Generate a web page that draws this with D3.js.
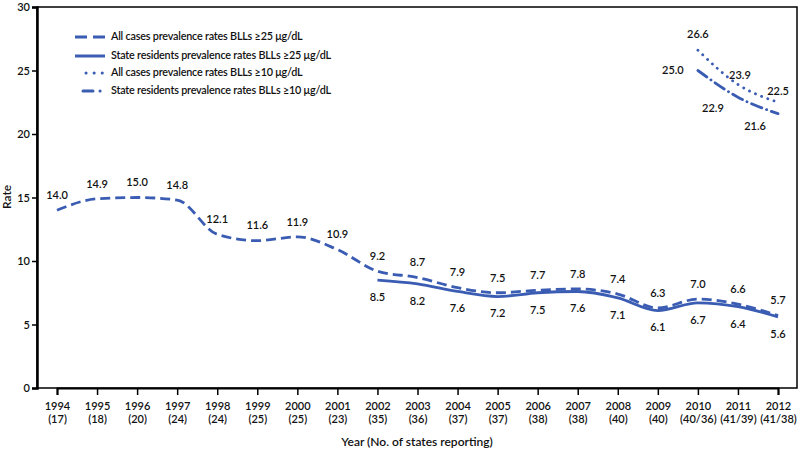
<!DOCTYPE html>
<html><head><meta charset="utf-8">
<script src="https://cdn.jsdelivr.net/npm/d3@7"></script>
<style>
body{margin:0;background:#fff;}
svg text{font-family:Lato,"Open Sans",sans-serif;fill:#111;}
</style></head>
<body><svg id="c" width="800" height="456"></svg>
<script>
const years = [1994,1995,1996,1997,1998,1999,2000,2001,2002,2003,2004,2005,2006,2007,2008,2009,2010,2011,2012];
const statesReporting = ["17","18","20","24","24","25","25","23","35","36","37","37","38","38","40","40","40/36","41/39","41/38"];
const allCases25 = [14.0,14.9,15.0,14.8,12.1,11.6,11.9,10.9,9.2,8.7,7.9,7.5,7.7,7.8,7.4,6.3,7.0,6.6,5.7];
const residentYears25 = [2002,2003,2004,2005,2006,2007,2008,2009,2010,2011,2012];
const residents25 = [8.5,8.2,7.6,7.2,7.5,7.6,7.1,6.1,6.7,6.4,5.6];
const years10 = [2010,2011,2012];
const allCases10 = [26.6,23.9,22.5];
const residents10 = [25.0,22.9,21.6];
const yTicks = [0,5,10,15,20,25,30];
const legendLabels = ["All cases prevalence rates BLLs \u226525 \u03bcg/dL","State residents prevalence rates BLLs \u226525 \u03bcg/dL","All cases prevalence rates BLLs \u226510 \u03bcg/dL","State residents prevalence rates BLLs \u226510 \u03bcg/dL"];

const color = "#3a5cb2";
const svg = d3.select("#c");
const mLeft = 37, mRight = 797, mTop = 7, mBottom = 388;
const x = d3.scalePoint().domain(years).range([57, 778]);
const y = d3.scaleLinear().domain([0,30]).range([mBottom, mTop]);

// frame
svg.append("rect").attr("x",mLeft).attr("y",mTop).attr("width",mRight-mLeft).attr("height",mBottom-mTop)
  .attr("fill","none").attr("stroke","#000").attr("stroke-width",1.5);

// y axis
const ya = svg.append("g").attr("transform",`translate(${mLeft},0)`)
  .call(d3.axisLeft(y).tickValues(yTicks).tickSize(5).tickPadding(2));
ya.select(".domain").attr("stroke-width",2.5);
ya.selectAll(".tick line").attr("stroke-width",1.5);
ya.selectAll("text").style("font-size","11px").style("font-weight","600");

// x axis
const xa = svg.append("g").attr("transform",`translate(0,${mBottom})`)
  .call(d3.axisBottom(x).tickSize(7).tickFormat(""));
xa.select(".domain").attr("stroke-width",2);
xa.selectAll(".tick line").attr("stroke-width",1.5);
xa.selectAll(".tick").each(function(d,i){
  const t = d3.select(this).append("text").attr("text-anchor","middle")
    .style("font-size","11px").style("font-weight","600");
  t.append("tspan").attr("x",0).attr("y",22).text(d);
  t.append("tspan").attr("x",0).attr("y",35).text("(" + statesReporting[i] + ")");
});

svg.append("text").attr("x",417).attr("y",446).attr("text-anchor","middle")
  .style("font-size","12px").style("font-weight","600").text("Year (No. of states reporting)");
svg.append("text").attr("transform","translate(11,197) rotate(-90)").attr("text-anchor","middle")
  .style("font-size","12px").style("font-weight","600").text("Rate");

const line = d3.line().x(d=>x(d[0])).y(d=>y(d[1])).curve(d3.curveMonotoneX);
const styles = [
  {dash:"10,5", cap:"butt"},
  {dash:null, cap:"butt"},
  {dash:"0.1,6.5", cap:"round"},
  {dash:"11,5,0.1,5", cap:"round"}
];
const seriesData = [
  d3.zip(years, allCases25),
  d3.zip(residentYears25, residents25),
  d3.zip(years10, allCases10),
  d3.zip(years10, residents10)
];
[1,0,3,2].forEach(k=>{
  const p = svg.append("path").datum(seriesData[k]).attr("d",line)
    .attr("fill","none").attr("stroke",color).attr("stroke-width",2.8)
    .attr("stroke-linecap",styles[k].cap);
  if(styles[k].dash) p.attr("stroke-dasharray",styles[k].dash);
});

function lbl(px,py,v){
  svg.append("text").attr("x",px).attr("y",py).attr("text-anchor","middle")
    .attr("dominant-baseline","middle").style("font-size","11px").style("font-weight","600")
    .text(v.toFixed(1));
}
seriesData[0].forEach(d=>lbl(x(d[0]), y(d[1])-14, d[1]));
seriesData[1].forEach(d=>lbl(x(d[0]), y(d[1])+18, d[1]));
const off10a = [[0,-15],[2,-8],[0,-10]];
const off10b = [[-25,1],[-25,12],[-23,14]];
seriesData[2].forEach((d,i)=>lbl(x(d[0])+off10a[i][0], y(d[1])+off10a[i][1], d[1]));
seriesData[3].forEach((d,i)=>lbl(x(d[0])+off10b[i][0], y(d[1])+off10b[i][1], d[1]));

// legend
const lg = svg.append("g");
const legY = [37,56,73,91];
legendLabels.forEach((t,i)=>{
  const yy = legY[i];
  let x1 = 75, x2 = 105;
  if(i===2){x1=86;}
  if(i===3){x1=83;}
  const p = lg.append("line").attr("x1",x1).attr("x2",x2).attr("y1",yy).attr("y2",yy)
    .attr("stroke",color).attr("stroke-width",3).attr("stroke-linecap",styles[i].cap);
  if(i===0) p.attr("stroke-dasharray","12,6");
  if(i===2) p.attr("stroke-dasharray","0.1,8");
  if(i===3) p.attr("stroke-dasharray","10,7,0.1,10");
  lg.append("text").attr("x",111).attr("y",yy).attr("dominant-baseline","middle")
    .style("font-size","10.8px").style("font-weight","600").style("letter-spacing","-0.2px").text(t);
});
</script></body></html>
